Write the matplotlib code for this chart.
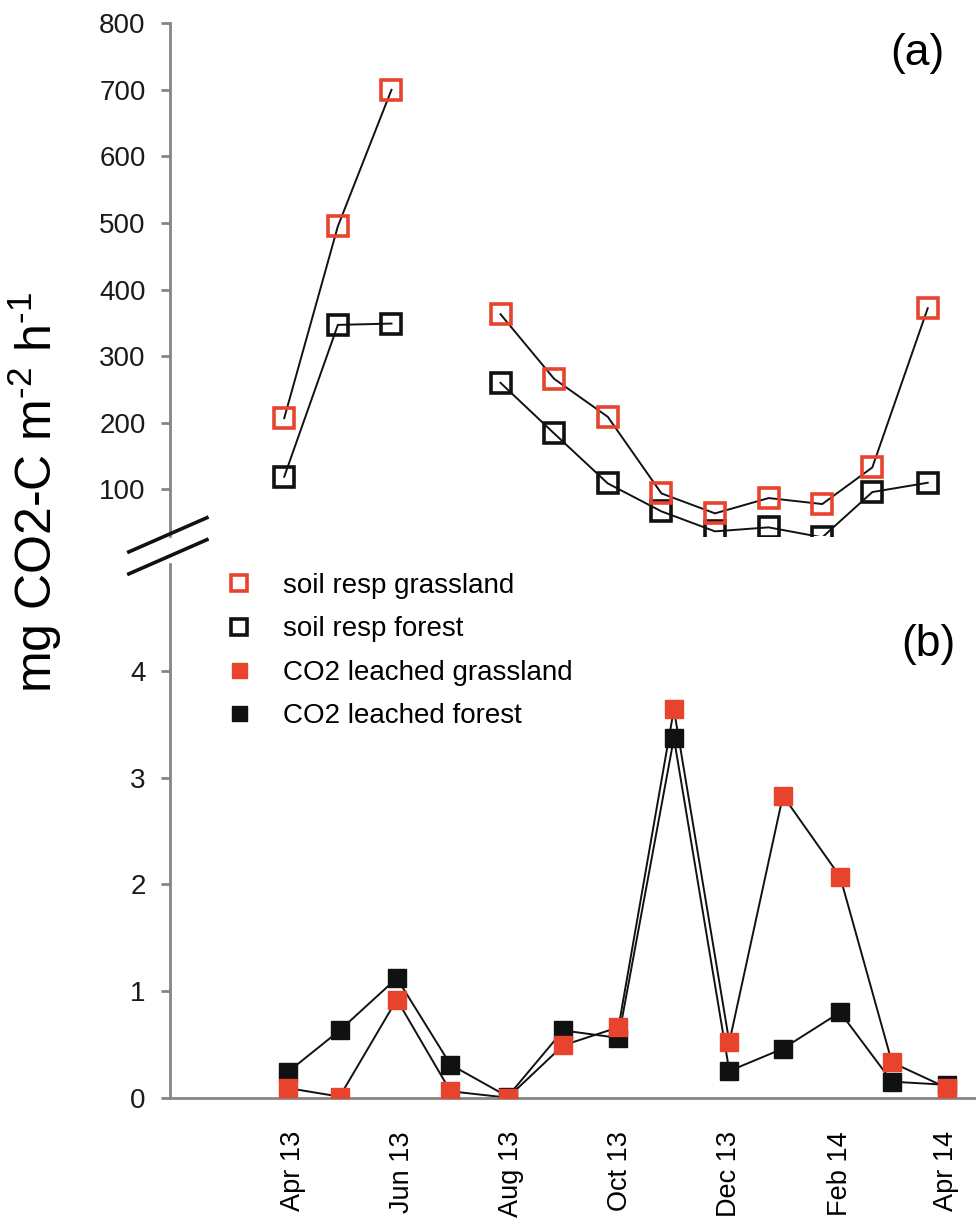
import matplotlib
matplotlib.use("Agg")
import matplotlib.pyplot as plt
from matplotlib.lines import Line2D
import numpy as np
import pandas as pd

plt.rcParams['font.family'] = ['Liberation Sans', 'DejaVu Sans']
plt.rcParams['mathtext.fontset'] = 'custom'
plt.rcParams['mathtext.rm'] = 'Liberation Sans'

# sampling dates (soil respiration, panel a) - no measurement in late June
resp_dates = ["2013-03-27", "2013-04-26", "2013-05-26", "2013-06-25", "2013-07-26",
              "2013-08-25", "2013-09-24", "2013-10-24", "2013-11-23", "2013-12-23",
              "2014-01-22", "2014-02-19", "2014-03-22"]
resp_grass = [207, 495, 700, np.nan, 363, 266, 209, 94, 64, 87, 78, 133, 372]
resp_forest = [119, 347, 349, np.nan, 260, 184, 109, 67, 37, 43, 28, 96, 110]

# sampling dates (leached CO2, panel b)
leach_dates = ["2013-03-29", "2013-04-27", "2013-05-29", "2013-06-28", "2013-07-30",
               "2013-08-30", "2013-09-30", "2013-10-31", "2013-12-01", "2013-12-31",
               "2014-02-01", "2014-03-02", "2014-04-02"]
leach_grass = [0.09, 0.01, 0.92, 0.06, 0.0, 0.49, 0.66, 3.64, 0.52, 2.83, 2.07, 0.33, 0.09]
leach_forest = [0.24, 0.63, 1.12, 0.31, 0.01, 0.63, 0.56, 3.37, 0.25, 0.46, 0.80, 0.15, 0.12]

tick_dates = ["2013-04-01", "2013-06-01", "2013-08-01", "2013-10-01",
              "2013-12-01", "2014-02-01", "2014-04-01"]
tick_labels = ["Apr 13", "Jun 13", "Aug 13", "Oct 13", "Dec 13", "Feb 14", "Apr 14"]

resp_x = pd.to_datetime(resp_dates)
leach_x = pd.to_datetime(leach_dates)
ticks_x = pd.to_datetime(tick_dates)

red = '#e8432d'
blk = '#111111'
spine_col = '#8a8580'

fig = plt.figure(figsize=(9.76, 12.21), dpi=100)
ax_top = fig.add_axes([0.174, 0.561, 0.826, 0.420])
ax_bot = fig.add_axes([0.174, 0.101, 0.826, 0.437], sharex=ax_top)

# panel (a)
ax_top.plot(resp_x, resp_forest, color=blk, lw=1.4, zorder=2)
ax_top.plot(resp_x, resp_grass, color=blk, lw=1.4, zorder=2)
h1, = ax_top.plot(resp_x, resp_forest, ls='none', marker='s', ms=14, mfc='none',
                  mec=blk, mew=2.6, zorder=3, label='soil resp forest')
h0, = ax_top.plot(resp_x, resp_grass, ls='none', marker='s', ms=14, mfc='none',
                  mec=red, mew=2.6, zorder=4, label='soil resp grassland')

# panel (b)
ax_bot.plot(leach_x, leach_forest, color=blk, lw=1.4, zorder=2)
ax_bot.plot(leach_x, leach_grass, color=blk, lw=1.4, zorder=2)
h3, = ax_bot.plot(leach_x, leach_forest, ls='none', marker='s', ms=13.5, mfc=blk,
                  mec=blk, zorder=3, label='CO2 leached forest')
h2, = ax_bot.plot(leach_x, leach_grass, ls='none', marker='s', ms=13.5, mfc=red,
                  mec=red, zorder=4, label='CO2 leached grassland')

ax_top.set_ylim(30, 800)
ax_top.set_yticks(range(100, 801, 100))
ax_bot.set_ylim(0, 5)
ax_bot.set_yticks([0, 1, 2, 3, 4])

ax_bot.set_xlim(pd.Timestamp("2013-01-22"), pd.Timestamp("2014-04-18"))
ax_bot.set_xticks(ticks_x)
ax_bot.set_xticklabels(tick_labels, rotation=90, fontsize=19.5)
ax_bot.tick_params(axis='x', length=0, pad=24)
ax_top.tick_params(axis='x', which='both', length=0, labelbottom=False)

for ax in (ax_top, ax_bot):
    ax.patch.set_visible(False)
    for s in ('top', 'right'):
        ax.spines[s].set_visible(False)
    ax.spines['left'].set_color(spine_col)
    ax.spines['left'].set_linewidth(2)
    ax.tick_params(axis='y', length=6.5, width=2, color=spine_col, labelsize=20,
                   labelcolor='#1a1a1a', pad=11)
ax_top.spines['bottom'].set_visible(False)
ax_bot.spines['bottom'].set_color(spine_col)
ax_bot.spines['bottom'].set_linewidth(2)

ax_top.text(0.961, 0.98, "(a)", transform=ax_top.transAxes, fontsize=32,
            ha='right', va='top')
ax_bot.text(0.974, 0.887, "(b)", transform=ax_bot.transAxes, fontsize=32,
            ha='right', va='top')

fig.text(0.036, 0.597, "mg CO2-C m$^{\\text{-2}}$ h$^{\\text{-1}}$", rotation=90,
         fontsize=36, ha='center', va='center')

ax_bot.legend(handles=[h0, h1, h2, h3], loc='upper left',
              bbox_to_anchor=(0.02, 1.03), frameon=False, fontsize=20,
              handletextpad=0.6, labelspacing=0.62, markerscale=0.8)

# axis break marks
for dy in (0, 0.018):
    fig.add_artist(Line2D([0.132, 0.212], [0.548 - dy, 0.576 - dy],
                          transform=fig.transFigure, color=blk, lw=2.6))

fig.savefig("out.png", dpi=100)
